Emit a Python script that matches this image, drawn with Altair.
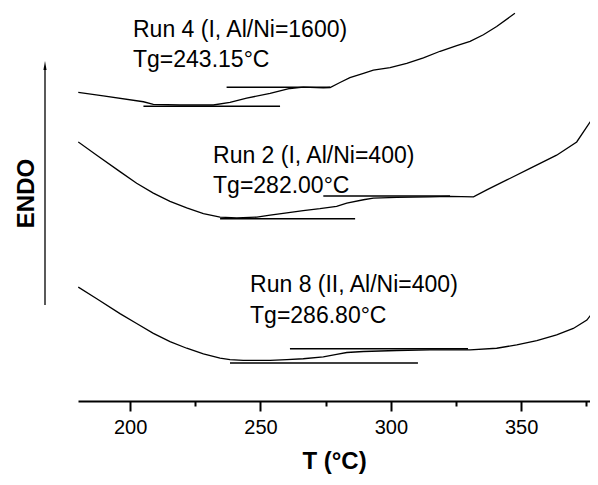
import altair as alt
import pandas as pd

# ---- data (T in °C, heat flow in arbitrary units, ENDO up)
run4_T = [180.1, 189.7, 205.1, 208.9, 219.1, 231.9, 238.3, 244.7, 253.7, 261.3, 266.4, 274.1,
          276.7, 280.5, 284.3, 289.5, 293.3, 299.7, 306.1, 312.5, 318.9, 325.3, 330.4, 335.5,
          340.6, 347.6]
run4_v = [31.17, 30.83, 30.23, 29.97, 29.9, 29.9, 30.17, 30.6, 31.07, 31.57, 31.7, 31.63,
          31.67, 32.17, 32.67, 33.1, 33.43, 33.67, 34.1, 34.67, 35.33, 35.9, 36.33, 37.0,
          37.83, 39.17]

run2_T = [180.1, 187.2, 196.1, 202.5, 208.9, 215.3, 221.7, 228.1, 234.5, 240.9, 248.6, 253.7,
          260.1, 266.4, 272.8, 279.2, 283.1, 289.5, 293.3, 302.3, 315.0, 322.7, 331.7, 336.8,
          344.5, 353.4, 363.6, 371.3, 376.4, 377.7]
run2_v = [26.17, 24.83, 23.17, 22.0, 21.0, 20.17, 19.5, 18.93, 18.57, 18.5, 18.57, 18.77,
          19.0, 19.23, 19.43, 19.67, 20.0, 20.33, 20.5, 20.57, 20.63, 20.67, 20.63, 21.33,
          22.33, 23.5, 24.83, 26.17, 28.17, 28.5]

run8_T = [180.1, 187.2, 196.1, 202.5, 208.9, 215.3, 221.7, 228.1, 234.5, 238.3, 243.4, 253.7,
          260.1, 266.4, 274.1, 279.2, 283.1, 289.5, 302.3, 315.0, 330.4, 340.6, 348.3, 356.0,
          363.6, 370.0, 375.2, 379.0]
run8_v = [11.5, 10.33, 8.83, 7.83, 6.83, 6.0, 5.33, 4.77, 4.33, 4.17, 4.1, 4.1,
          4.17, 4.27, 4.45, 4.7, 4.9, 5.0, 5.1, 5.17, 5.17, 5.33, 5.67, 6.1,
          6.67, 7.33, 8.17, 9.5]

# tangent baselines: start T, end T, level
base_T1 = [205.1, 237.0, 234.5, 274.1, 238.3, 261.3]
base_T2 = [257.5, 276.7, 286.3, 322.7, 310.4, 329.6]
base_v = [29.77, 31.7, 18.4, 20.7, 3.85, 5.27]

# annotations
label_T = [201.1, 201.1, 231.8, 231.8, 246.0, 246.0]
label_v = [36.8, 33.7, 24.0, 21.0, 11.0, 7.9]
label_text = ["Run 4 (I, Al/Ni=1600)", "Tg=243.15°C",
              "Run 2 (I, Al/Ni=400)", "Tg=282.00°C",
              "Run 8 (II, Al/Ni=400)", "Tg=286.80°C"]

arrow_v = [9.7, 33.7]

x_ticks = [200, 225, 250, 275, 300, 325, 350, 375]

FONT = "Liberation Sans"

curves = pd.concat([
    pd.DataFrame({"T": run4_T, "v": run4_v, "run": "Run 4"}),
    pd.DataFrame({"T": run2_T, "v": run2_v, "run": "Run 2"}),
    pd.DataFrame({"T": run8_T, "v": run8_v, "run": "Run 8"}),
])
bases = pd.DataFrame({"T1": base_T1, "T2": base_T2, "v": base_v})
labels = pd.DataFrame({"T": label_T, "v": label_v, "text": label_text})
arrow = pd.DataFrame({"v1": [arrow_v[0]], "v2": [arrow_v[1]]})
arrow_head = pd.DataFrame({"v": [arrow_v[1] + 0.2]})

xscale = alt.Scale(domain=[180, 376.4], nice=False, zero=False)
yscale = alt.Scale(domain=[0, 39.7], nice=False, zero=False)

xaxis = alt.Axis(
    values=x_ticks,
    labelExpr="datum.value % 50 === 0 ? datum.label : ''",
    tickSize={"expr": "datum.value % 50 === 0 ? 10 : 5"},
    tickWidth=2, domainWidth=2, domainColor="black", tickColor="black",
    labelFont=FONT, labelFontSize=20, labelColor="black", labelPadding=6,
    title="T (°C)", titleFont=FONT, titleFontSize=24, titleFontWeight="bold",
    titleColor="black", titlePadding=12, grid=False,
)
yaxis = alt.Axis(
    domain=False, ticks=False, labels=False, grid=False,
    title="ENDO", titleFont=FONT, titleFontSize=24, titleFontWeight="bold",
    titleColor="black", titleAngle=270, titleX=-45, titleY=185,
    titleAlign="center", titleBaseline="alphabetic",
)

lines = alt.Chart(curves).mark_line(color="black", strokeWidth=1.3, clip=True).encode(
    x=alt.X("T:Q", scale=xscale, axis=xaxis),
    y=alt.Y("v:Q", scale=yscale, axis=yaxis),
    detail="run:N",
)

base_rules = alt.Chart(bases).mark_rule(color="black", strokeWidth=1.5).encode(
    x="T1:Q", x2="T2", y="v:Q",
)

texts = alt.Chart(labels).mark_text(
    align="left", baseline="alphabetic", font=FONT, fontSize=23, color="black"
).encode(x="T:Q", y="v:Q", text="text:N")

arrow_rule = alt.Chart(arrow).mark_rule(color="black", strokeWidth=1.3).encode(
    x=alt.value(-33), y="v1:Q", y2="v2",
)
arrow_tip = alt.Chart(arrow_head).mark_point(
    shape="M0,-1L0.35,1L-0.35,1Z", filled=True, color="black", size=81, opacity=1
).encode(x=alt.value(-33), y="v:Q")

chart = alt.layer(lines, base_rules, texts, arrow_rule, arrow_tip).properties(
    width=512, height=393,
    autosize=alt.AutoSizeParams(type="none"),
    padding={"left": 70, "top": 0, "right": 0, "bottom": 76},
    background="white",
).configure_view(stroke=None)

chart.save("out.html", embed_options={"renderer": "svg", "actions": False})
